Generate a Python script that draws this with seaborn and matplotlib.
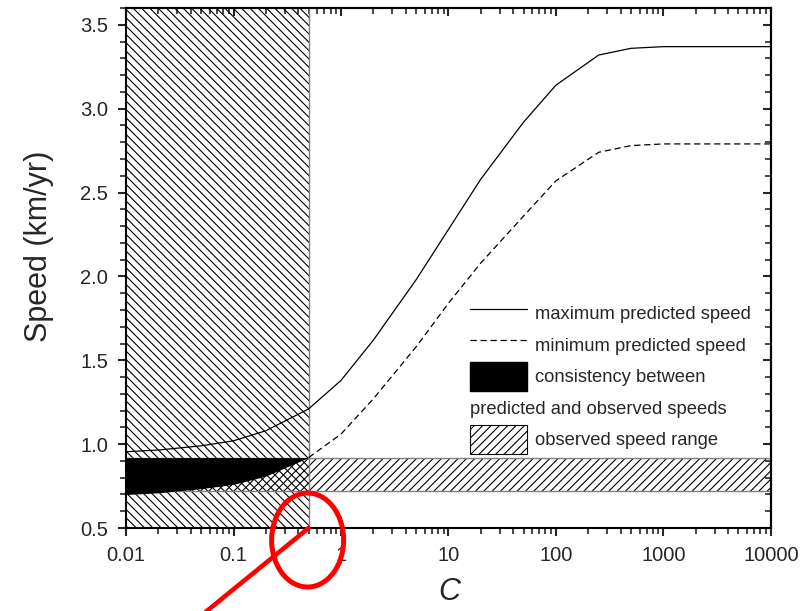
import numpy as np
import pandas as pd
import matplotlib
matplotlib.use("Agg")
import matplotlib.pyplot as plt
import matplotlib.transforms as mtransforms
from matplotlib.patches import Rectangle, Ellipse, Patch
from matplotlib.lines import Line2D
from matplotlib.ticker import FuncFormatter, MultipleLocator, LogLocator, NullFormatter
import seaborn as sns

# ---- data ----
c_values = [0.01, 0.02, 0.05, 0.1, 0.2, 0.5, 1, 2, 5, 10, 20, 50, 100, 250, 500, 1000, 10000]
max_speed = [0.955, 0.965, 0.99, 1.02, 1.08, 1.21, 1.38, 1.62, 1.98, 2.28, 2.58, 2.92, 3.14, 3.32, 3.36, 3.37, 3.37]
min_speed = [0.70, 0.71, 0.735, 0.76, 0.81, 0.92, 1.06, 1.27, 1.58, 1.84, 2.08, 2.36, 2.57, 2.74, 2.78, 2.79, 2.79]
obs_low, obs_high = 0.72, 0.92
c_threshold = 0.5
x_ticks = [0.01, 0.1, 1, 10, 100, 1000, 10000]
y_ticks = [0.5, 1.0, 1.5, 2.0, 2.5, 3.0, 3.5]
legend_labels = ["maximum predicted speed", "minimum predicted speed",
                 "consistency between", "predicted and observed speeds",
                 "observed speed range"]

df = pd.DataFrame({"C": c_values, "max": max_speed, "min": min_speed})

sns.set_style("ticks")
plt.rcParams["font.family"] = ["Liberation Sans", "DejaVu Sans"]
plt.rcParams["hatch.linewidth"] = 0.8

fig = plt.figure(figsize=(8.08, 6.11), dpi=100)
ax = fig.add_axes([0.156, 0.1358, 0.798, 0.851])
ax.set_xscale("log")
ax.set_xlim(0.01, 10000)
ax.set_ylim(0.5, 3.6)

# hatched region C < threshold
ax.add_patch(Rectangle((0.01, 0.5), c_threshold - 0.01, 3.1, facecolor="none",
                       edgecolor="black", lw=0, hatch="\\\\\\\\", zorder=1))
ax.axvline(c_threshold, color="gray", lw=1.0, zorder=2)
# observed speed range band
ax.add_patch(Rectangle((0.01, obs_low), 10000, obs_high - obs_low, facecolor="none",
                       edgecolor="black", lw=0, hatch="////", zorder=1))
ax.axhline(obs_low, color="gray", lw=1.0, zorder=2)
ax.axhline(obs_high, color="gray", lw=1.0, zorder=2)

# consistency region
left = df[df["C"] <= c_threshold]
ax.fill_between(left["C"], left["min"], obs_high, color="black", lw=0, zorder=3)

sns.lineplot(data=df, x="C", y="max", color="black", lw=0.9, ax=ax, zorder=4)
right = df[df["C"] >= c_threshold]
sns.lineplot(data=right, x="C", y="min", color="black", lw=0.9, ax=ax, zorder=4,
             linestyle=(0, (5, 3)))

ax.set_xlabel("C", fontsize=22, style="italic")
ax.set_ylabel("Speed (km/yr)", fontsize=22)
ax.xaxis.set_label_coords(0.502, -0.094)
ax.yaxis.set_label_coords(-0.112, 0.542)

ax.set_xticks(x_ticks)
ax.xaxis.set_major_formatter(FuncFormatter(lambda v, p: f"{v:g}"))
ax.xaxis.set_minor_locator(LogLocator(base=10, subs=np.arange(2, 10)))
ax.xaxis.set_minor_formatter(NullFormatter())
ax.set_yticks(y_ticks)
ax.yaxis.set_major_formatter(FuncFormatter(lambda v, p: f"{v:.1f}"))
ax.yaxis.set_minor_locator(MultipleLocator(0.1))
ax.tick_params(which="major", direction="out", length=6, width=1.5, labelsize=14.5, pad=7)
ax.tick_params(which="minor", direction="out", length=4, width=1.2)
for s in ax.spines.values():
    s.set_linewidth(1.5)
    s.set_visible(True)
    s.set_color("black")

secx = ax.secondary_xaxis("top")
secx.set_xticks(x_ticks)
secx.xaxis.set_minor_locator(LogLocator(base=10, subs=np.arange(2, 10)))
secx.tick_params(which="major", direction="in", length=6, width=1.5, labeltop=False)
secx.tick_params(which="minor", direction="in", length=4, width=1.2)
secx.xaxis.set_minor_formatter(NullFormatter())
secy = ax.secondary_yaxis("right")
secy.set_yticks(y_ticks)
secy.yaxis.set_minor_locator(MultipleLocator(0.1))
secy.tick_params(which="major", direction="in", length=6, width=1.5, labelright=False)
secy.tick_params(which="minor", direction="in", length=4, width=1.2)
for sa in (secx, secy):
    for s in sa.spines.values():
        s.set_linewidth(1.5)

# legend
handles = [Line2D([], [], color="black", lw=0.9),
           Line2D([], [], color="black", lw=0.9, linestyle=(0, (5, 3))),
           Patch(facecolor="black", edgecolor="black"),
           Line2D([], [], color="none"),
           Patch(facecolor="white", edgecolor="black", hatch="////", lw=0.8)]
labels = [legend_labels[0], legend_labels[1], legend_labels[2], " ", legend_labels[4]]
leg = ax.legend(handles, labels, loc="upper left", bbox_to_anchor=(0.5333, 0.441),
                frameon=False, fontsize=13.2, handlelength=3.1, handleheight=2.06,
                labelspacing=0.136, handletextpad=0.44, borderaxespad=0, borderpad=0)
leg.set_zorder(6)

fig.canvas.draw()
row_text = leg.get_texts()[3].get_window_extent()
inv = ax.transAxes.inverted()
y_row = inv.transform((0, (row_text.y0 + row_text.y1) / 2))[1]
ax.text(0.5333, y_row, legend_labels[3], transform=ax.transAxes, fontsize=13.2,
        va="center", ha="left", zorder=6)

# red annotation ellipse and pointer
trans = fig.dpi_scale_trans + mtransforms.ScaledTranslation(c_threshold, 0.5, ax.transData)
ax.add_patch(Ellipse((-0.01, -0.12), 0.72, 0.94, transform=trans, fill=False,
                     edgecolor="red", lw=3.6, clip_on=False, zorder=10))
ax.add_line(Line2D([0, -1.3], [0, -1.06], transform=trans, color="red", lw=3.3,
                   clip_on=False, zorder=10))

fig.savefig("out.png", dpi=100)
